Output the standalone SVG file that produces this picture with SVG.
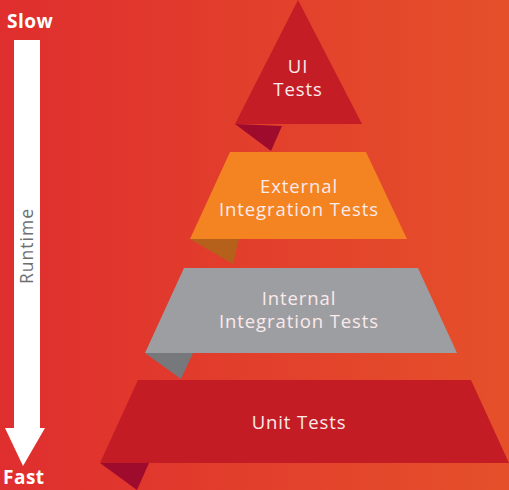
<svg xmlns="http://www.w3.org/2000/svg" width="509" height="490" viewBox="0 0 509 490">
  <defs>
    <linearGradient id="bg" x1="0" y1="0" x2="1" y2="0">
      <stop offset="0" stop-color="#df2e2e"/>
      <stop offset="1" stop-color="#e5502a"/>
    </linearGradient>
  </defs>
  <style>
    .lbl { font-family: "Open Sans", "Noto Sans", "DejaVu Sans", sans-serif; font-size: 18.5px; letter-spacing: 0.9px; fill: #fbeaea; text-anchor: middle; }
    .end { font-family: "Open Sans", "Liberation Sans", sans-serif; font-size: 19px; font-weight: bold; letter-spacing: 0.5px; fill: #ffffff; }
  </style>
  <rect x="0" y="0" width="509" height="490" fill="url(#bg)"/>

  <g id="runtime-axis">
    <text class="end" x="7" y="28">Slow</text>
    <polygon points="14,40 40,40 40,428 45,428 23,466 5,428 14,428" fill="#ffffff"/>
    <text x="33" y="246" transform="rotate(-90 33 246)" font-family="'Open Sans', 'Noto Sans', sans-serif" font-size="17.5" letter-spacing="1" fill="#6d6e70" text-anchor="middle">Runtime</text>
    <text class="end" x="3" y="484">Fast</text>
  </g>

  <g id="ui-tests">
    <polygon points="235,124 282,126 271,151" fill="#9e0b2d"/>
    <polygon points="298,0 362,124 235,124" fill="#c41d25"/>
    <text class="lbl" x="298" y="73">UI</text>
    <text class="lbl" x="298" y="96">Tests</text>
  </g>

  <g id="external-integration-tests">
    <polygon points="190,239 239,239 233,264" fill="#b5611c"/>
    <polygon points="230,152 366,152 407,239 190,239" fill="#f48321"/>
    <text class="lbl" x="299" y="193">External</text>
    <text class="lbl" x="299" y="216">Integration Tests</text>
  </g>

  <g id="internal-integration-tests">
    <polygon points="145,353 193,353 181,379" fill="#77787b"/>
    <polygon points="184,268 418,268 457,353 145,353" fill="#9d9ea2"/>
    <text class="lbl" x="299" y="305">Internal</text>
    <text class="lbl" x="299" y="328">Integration Tests</text>
  </g>

  <g id="unit-tests">
    <polygon points="100,463 149,463 137,490" fill="#9e0b2d"/>
    <polygon points="138,380 471,380 509,463 100,463" fill="#c41c24"/>
    <text class="lbl" x="299" y="429">Unit Tests</text>
  </g>
</svg>
